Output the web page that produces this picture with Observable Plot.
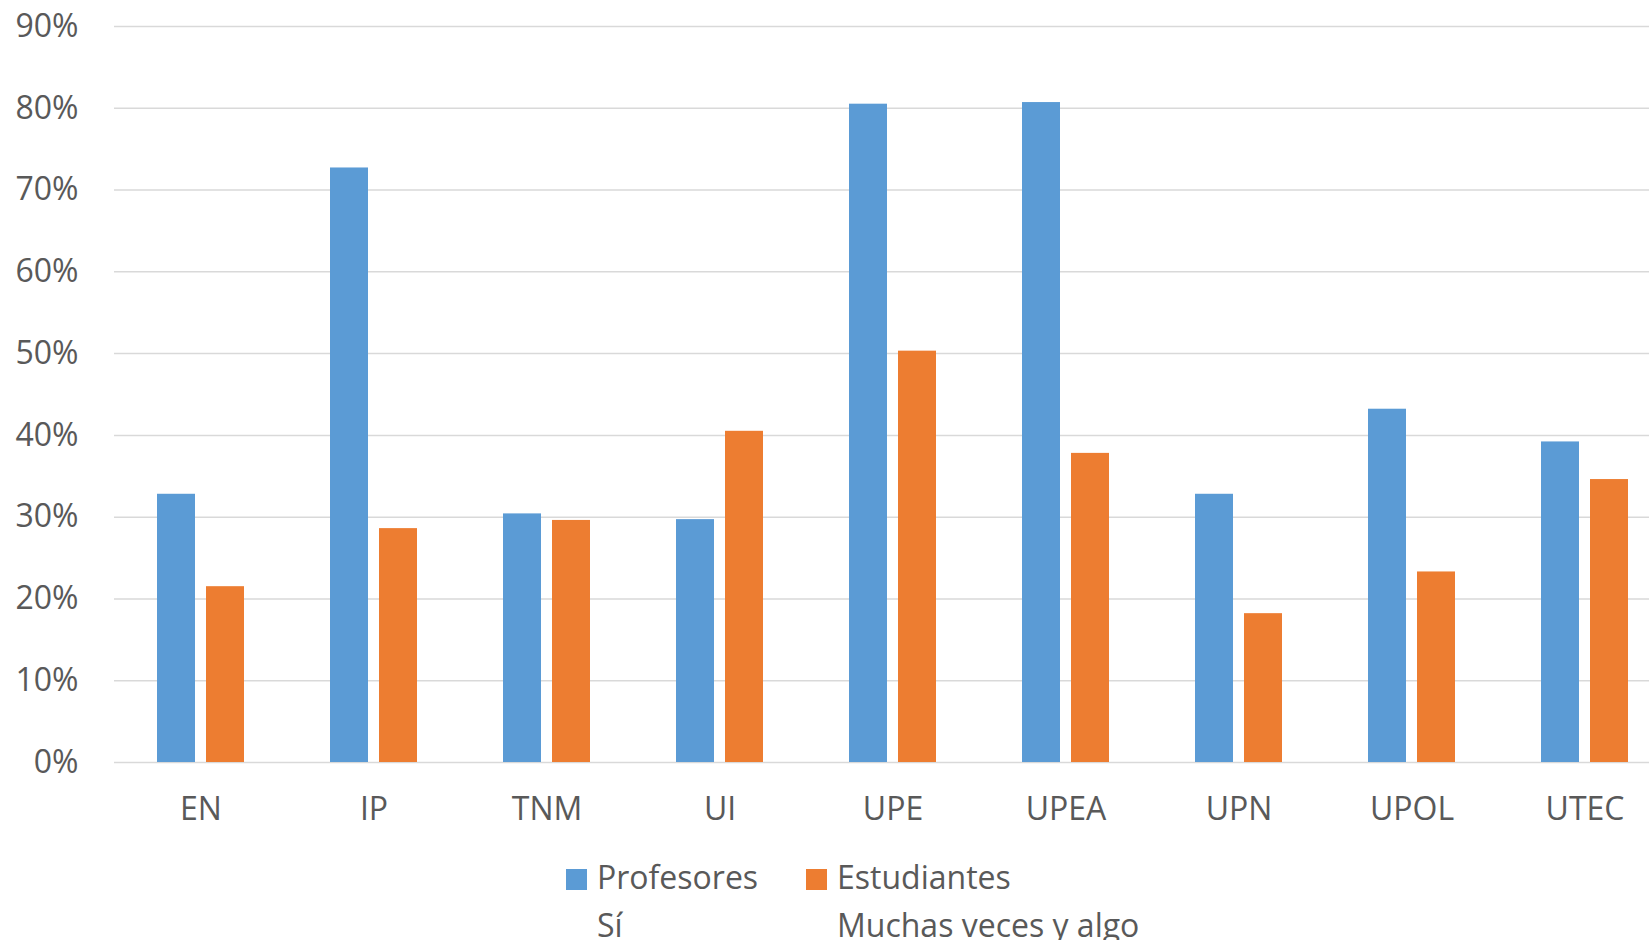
<!DOCTYPE html>
<html>
<head>
<meta charset="utf-8">
<script src="https://cdn.jsdelivr.net/npm/d3@7"></script>
<script src="https://cdn.jsdelivr.net/npm/@observablehq/plot@0.6"></script>
<style>
  html, body { margin: 0; padding: 0; background: #fff; overflow: hidden; }
  #wrap { position: relative; width: 1649px; height: 940px; font-family: "Open Sans", sans-serif; color: #595959; }
  #chart svg { display: block; }
  .item { position: absolute; top: 853px; font-size: 32px; line-height: 48px; white-space: nowrap; }
  .sw { position: absolute; left: 0; top: 16px; width: 21px; height: 21px; }
  .lab { margin-left: 31px; }
</style>
</head>
<body>
<div id="wrap">
  <div id="chart"></div>
  <div id="legend"></div>
</div>
<script>
const categories = ["EN", "IP", "TNM", "UI", "UPE", "UPEA", "UPN", "UPOL", "UTEC"];
const profesores = [32.8, 72.7, 30.4, 29.7, 80.5, 80.7, 32.8, 43.2, 39.2];
const estudiantes = [21.5, 28.6, 29.6, 40.5, 50.3, 37.8, 18.2, 23.3, 34.6];
const seriesNames = ["Profesores", "Estudiantes"];
const seriesSub = ["Sí", "Muchas veces y algo"];
const seriesColors = ["#5B9BD5", "#ED7D31"];
const yTicks = [0, 0.1, 0.2, 0.3, 0.4, 0.5, 0.6, 0.7, 0.8, 0.9];

const rows = [];
categories.forEach((c, i) => {
  rows.push({cat: c, series: seriesNames[0], value: profesores[i] / 100});
  rows.push({cat: c, series: seriesNames[1], value: estudiantes[i] / 100});
});

const chart = Plot.plot({
  width: 1649,
  height: 845,
  marginTop: 26,
  marginBottom: 83,
  marginLeft: 113,
  marginRight: 0,
  style: {fontFamily: "'Open Sans', sans-serif", fontSize: "32px", color: "#595959", background: "#fff"},
  fx: {domain: categories, range: [113.4, 1672.6], padding: 0},
  x: {domain: seriesNames, paddingInner: 0.22, paddingOuter: 0.86, axis: null},
  y: {domain: [0, 0.9]},
  color: {domain: seriesNames, range: seriesColors},
  marks: [
    Plot.gridY(yTicks, {stroke: "#d9d9d9", strokeOpacity: 1, strokeWidth: 1.5}),
    Plot.barY(rows, {fx: "cat", x: "series", y: "value", fill: "series"}),
    Plot.axisY(yTicks, {tickSize: 0, tickPadding: 36, tickFormat: d3.format(".0%"), label: null, fontSize: 32, fill: "#595959"}),
    Plot.axisFx({anchor: "bottom", tickSize: 0, tickPadding: 35, label: null, fontSize: 32, fill: "#595959"})
  ]
});
document.getElementById("chart").appendChild(chart);

const legendLeft = [566, 806];
const legend = document.getElementById("legend");
seriesNames.forEach((s, i) => {
  const item = document.createElement("div");
  item.className = "item";
  item.style.left = legendLeft[i] + "px";
  const sw = document.createElement("span");
  sw.className = "sw";
  sw.style.background = seriesColors[i];
  const lab = document.createElement("div");
  lab.className = "lab";
  lab.innerHTML = s + "<br>" + seriesSub[i];
  item.appendChild(sw);
  item.appendChild(lab);
  legend.appendChild(item);
});
</script>
</body>
</html>
